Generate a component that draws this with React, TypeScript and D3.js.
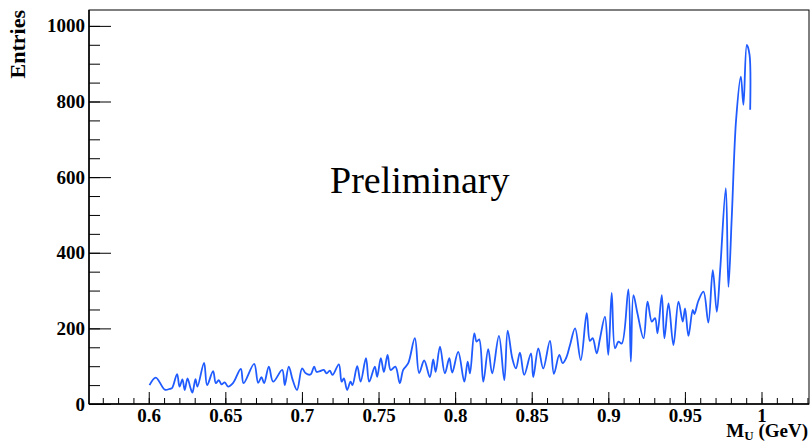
import * as d3 from "d3";
import { useEffect, useRef } from "react";

// bin centres (GeV) and entries
const massGeV = [
  0.6005, 0.6046, 0.6105, 0.6137, 0.6152, 0.6185, 0.6201, 0.622, 0.6235, 0.6253,
  0.6272, 0.6285, 0.6305, 0.6318, 0.6361, 0.6381, 0.642, 0.6438, 0.6457, 0.6475,
  0.6496, 0.6518, 0.6551, 0.6601, 0.6619, 0.6688, 0.6714, 0.6736, 0.6753, 0.6784,
  0.6812, 0.6871, 0.6888, 0.6914, 0.694, 0.6968, 0.7001, 0.7025, 0.7056, 0.708,
  0.7095, 0.7117, 0.7143, 0.7161, 0.7182, 0.72, 0.7241, 0.7259, 0.7274, 0.7295,
  0.7317, 0.733, 0.7361, 0.7383, 0.7418, 0.7439, 0.7476, 0.7491, 0.7515, 0.7535,
  0.7559, 0.7579, 0.761, 0.7639, 0.7661, 0.7694, 0.7737, 0.7765, 0.7798, 0.7835,
  0.7857, 0.7873, 0.7901, 0.7933, 0.7962, 0.7981, 0.802, 0.806, 0.8082, 0.8097,
  0.8125, 0.814, 0.8157, 0.8184, 0.8216, 0.8242, 0.8286, 0.8321, 0.8343, 0.8373,
  0.8397, 0.8423, 0.8451, 0.8495, 0.851, 0.8543, 0.8575, 0.8619, 0.8645, 0.868,
  0.8702, 0.8724, 0.875, 0.8783, 0.882, 0.8859, 0.888, 0.8898, 0.8924, 0.8946,
  0.8978, 0.9, 0.9022, 0.9044, 0.9066, 0.9088, 0.9131, 0.9147, 0.9164, 0.919,
  0.923, 0.9256, 0.9284, 0.9305, 0.9321, 0.9349, 0.9366, 0.9393, 0.9425, 0.9458,
  0.9486, 0.9501, 0.9523, 0.9551, 0.9562, 0.9588, 0.9621, 0.9653, 0.9682, 0.9708,
  0.973, 0.9767, 0.9784, 0.9806, 0.9834, 0.9865, 0.9882, 0.9904, 0.9922, 0.9926,
];

const entries = [
  50, 70, 38, 40, 42, 79, 46, 65, 37, 68,
  43, 30, 66, 46, 109, 50, 87, 55, 63, 52,
  57, 46, 56, 93, 55, 106, 56, 71, 55, 99,
  59, 90, 50, 99, 63, 37, 94, 81, 78, 99,
  85, 87, 90, 81, 88, 77, 105, 59, 68, 37,
  59, 50, 100, 59, 121, 59, 99, 72, 121, 85,
  130, 90, 99, 55, 90, 108, 174, 82, 115, 71,
  118, 85, 152, 81, 121, 83, 138, 59, 112, 81,
  187, 165, 171, 59, 145, 81, 180, 63, 194, 121,
  94, 136, 77, 134, 71, 147, 94, 167, 80, 130,
  108, 121, 156, 200, 116, 240, 167, 174, 134, 174,
  231, 130, 294, 147, 165, 160, 303, 112, 288, 240,
  174, 271, 218, 227, 187, 288, 174, 266, 156, 271,
  218, 253, 180, 249, 238, 273, 297, 215, 354, 244,
  354, 571, 310, 496, 751, 866, 791, 950, 923, 778,
];

const xMajorTicks = [0.6, 0.65, 0.7, 0.75, 0.8, 0.85, 0.9, 0.95, 1];
const yMajorTicks = [0, 200, 400, 600, 800, 1000];

const WIDTH = 811;
const HEIGHT = 444;
const FONT = "'Liberation Serif', 'Times New Roman', serif";
const LINE_COLOR = "#1f5bff";

export default function App() {
  const svgRef = useRef<SVGSVGElement | null>(null);

  useEffect(() => {
    document.body.style.margin = "0";

    const margin = { top: 10, right: 2, bottom: 40, left: 89 };
    const innerWidth = WIDTH - margin.left - margin.right;
    const innerHeight = HEIGHT - margin.top - margin.bottom;

    const x = d3.scaleLinear().domain([0.561, 1.031]).range([0, innerWidth]);
    const y = d3.scaleLinear().domain([0, 1042]).range([innerHeight, 0]);

    const svg = d3.select(svgRef.current);
    svg.selectAll("*").remove();

    svg.append("rect").attr("width", WIDTH).attr("height", HEIGHT).attr("fill", "#fff");

    const g = svg
      .append("g")
      .attr("transform", `translate(${margin.left},${margin.top})`);

    // frame
    g.append("rect")
      .attr("width", innerWidth)
      .attr("height", innerHeight)
      .attr("fill", "none")
      .attr("stroke", "#000")
      .attr("stroke-width", 1);

    const xMinor = d3.range(57, 104).map(i => i / 100);
    const yMinor = d3.range(0, 21).map(i => i * 50);

    // x minor ticks
    g.append("g")
      .attr("transform", `translate(0,${innerHeight})`)
      .call(d3.axisBottom(x).tickValues(xMinor).tickSize(-6).tickSizeOuter(0).tickFormat(() => ""))
      .call(a => a.select(".domain").remove());

    // x major ticks + labels
    g.append("g")
      .attr("transform", `translate(0,${innerHeight})`)
      .call(
        d3.axisBottom(x)
          .tickValues(xMajorTicks)
          .tickSize(-12)
          .tickSizeOuter(0)
          .tickPadding(5)
          .tickFormat(d => String(d))
      )
      .call(a => a.select(".domain").remove())
      .attr("font-family", FONT)
      .attr("font-size", 19)
      .attr("font-weight", "bold");

    // y minor ticks
    g.append("g")
      .call(d3.axisLeft(y).tickValues(yMinor).tickSize(-11).tickSizeOuter(0).tickFormat(() => ""))
      .call(a => a.select(".domain").remove());

    // y major ticks + labels
    g.append("g")
      .call(
        d3.axisLeft(y)
          .tickValues(yMajorTicks)
          .tickSize(-22)
          .tickSizeOuter(0)
          .tickPadding(4)
          .tickFormat(d => String(d))
      )
      .call(a => a.select(".domain").remove())
      .attr("font-family", FONT)
      .attr("font-size", 19)
      .attr("font-weight", "bold");

    // axis lines a bit heavier
    g.append("line")
      .attr("x1", 0).attr("x2", innerWidth)
      .attr("y1", innerHeight).attr("y2", innerHeight)
      .attr("stroke", "#000").attr("stroke-width", 1.5);
    g.append("line")
      .attr("x1", 0).attr("x2", 0)
      .attr("y1", 0).attr("y2", innerHeight)
      .attr("stroke", "#000").attr("stroke-width", 1.5);

    // data curve
    const points = massGeV.map((m, i) => [m, entries[i]] as [number, number]);
    const line = d3
      .line<[number, number]>()
      .x(d => x(d[0]))
      .y(d => y(d[1]))
      .curve(d3.curveCatmullRom.alpha(0.5));

    g.append("path")
      .datum(points)
      .attr("d", line)
      .attr("fill", "none")
      .attr("stroke", LINE_COLOR)
      .attr("stroke-width", 1.8);

    // titles
    svg.append("text")
      .attr("transform", "translate(25,10) rotate(-90)")
      .attr("text-anchor", "end")
      .attr("font-family", FONT)
      .attr("font-size", 22)
      .attr("font-weight", "bold")
      .text("Entries");

    const xt = svg.append("text")
      .attr("x", 808)
      .attr("y", 437)
      .attr("text-anchor", "end")
      .attr("font-family", FONT)
      .attr("font-size", 19)
      .attr("font-weight", "bold");
    xt.append("tspan").text("M");
    xt.append("tspan").attr("font-size", 13).attr("dy", 3).text("U");
    xt.append("tspan").attr("dy", -3).text(" (GeV)");

    svg.append("text")
      .attr("x", 330)
      .attr("y", 193)
      .attr("font-family", FONT)
      .attr("font-size", 38)
      .text("Preliminary");
  }, []);

  return <svg ref={svgRef} width={WIDTH} height={HEIGHT} style={{ display: "block" }} />;
}
